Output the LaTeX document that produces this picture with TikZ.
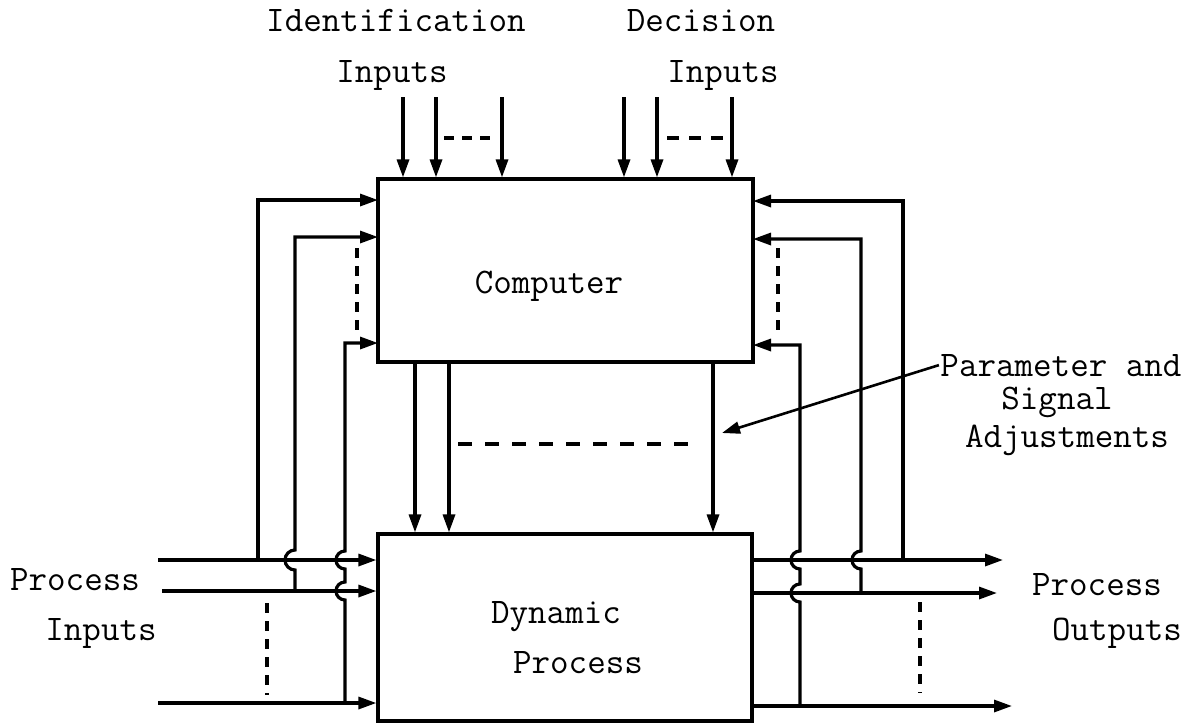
\documentclass[tikz,border=0pt]{standalone}
\usetikzlibrary{arrows.meta, fit}

\begin{document}
\begin{tikzpicture}[x=0.5pt, y=-0.5pt, line width=1.6pt,
    every node/.style={font=\fontsize{18}{20}\selectfont\ttfamily, inner sep=0pt},
    blk/.style={draw, line width=1.6pt},
    arr/.style={-{Triangle[length=9pt,width=6pt]}},
    gap/.style={dash pattern=on 5pt off 4pt}]
  \useasboundingbox (0,0) rectangle (1195,725);

  % the two blocks
  \node[blk, fit={(378,179) (753,362)}] (comp) {};
  \node[blk, fit={(378,534) (752,721)}] (dyn) {};
  \node[anchor=base] (compT) at (549,293) {Computer};
  \node[anchor=base] (dynT) at (556,623) {Dynamic};
  \node[anchor=base] (dynP) at (578,673) {Process};

  % labels
  \node[anchor=base] (idA) at (396,31) {Identification};
  \node[anchor=base] (idB) at (392,82) {Inputs};
  \node[anchor=base] (deA) at (701,31) {Decision};
  \node[anchor=base] (deB) at (723,82) {Inputs};
  \node[anchor=base] (piA) at (75,590) {Process};
  \node[anchor=base] (piB) at (101,640) {Inputs};
  \node[anchor=base] (poA) at (1097,595) {Process};
  \node[anchor=base] (poB) at (1117,640) {Outputs};
  \node[anchor=base] (par) at (1061,376) {Parameter and};
  \node[anchor=base] (sig) at (1057,409) {Signal};
  \node[anchor=base] (adj) at (1067,447) {Adjustments};

  % identification and decision inputs
  \coordinate (ii1) at (403,97);
  \coordinate (ii2) at (436,97);
  \coordinate (ii3) at (502,97);
  \coordinate (di1) at (624,97);
  \coordinate (di2) at (657,97);
  \coordinate (di3) at (732,97);
  \draw[arr] (ii1) -- (ii1 |- comp.north);
  \draw[arr] (ii2) -- (ii2 |- comp.north);
  \draw[arr] (ii3) -- (ii3 |- comp.north);
  \draw[arr] (di1) -- (di1 |- comp.north);
  \draw[arr] (di2) -- (di2 |- comp.north);
  \draw[arr] (di3) -- (di3 |- comp.north);
  \draw[gap] (444,138) -- (490,138);
  \draw[gap, dash pattern=on 6pt off 5pt] (667,138) -- (723,138);

  % adjustments from computer to process
  \coordinate (co1) at (415,362);
  \coordinate (co2) at (449,362);
  \coordinate (co3) at (713,362);
  \draw[arr] (co1) -- (co1 |- dyn.north);
  \draw[arr] (co2) -- (co2 |- dyn.north);
  \draw[arr] (co3) -- (co3 |- dyn.north);
  \draw[gap, dash pattern=on 7pt off 6.5pt] (458,444) -- (698,444);
  \coordinate (ptip) at (722,433);
  \draw[arr, line width=1.3pt] (par.west) -- (ptip);

  % process inputs
  \coordinate (pi1) at (158,560);
  \coordinate (pi2) at (162,591);
  \coordinate (pi3) at (158,703);
  \draw[arr] (pi1) -- (pi1 -| dyn.west);
  \draw[arr] (pi2) -- (pi2 -| dyn.west);
  \draw[arr] (pi3) -- (pi3 -| dyn.west);
  \draw[gap] (267,603) -- (267,695);

  % input feedback to computer
  \coordinate (ti1) at (258,560);
  \coordinate (ti2) at (295,591);
  \coordinate (ti3) at (345,703);
  \coordinate (cl1) at (378,200);
  \coordinate (cl2) at (378,237);
  \coordinate (cl3) at (378,343);
  \draw[arr] (ti1) |- (cl1);
  \draw[arr] (ti2) -- (295,570) arc[start angle=90, end angle=270, radius=10] |- (cl2);
  \draw[arr] (ti3) -- (345,600) arc[start angle=90, end angle=270, radius=9]
    -- (345,569) arc[start angle=90, end angle=270, radius=9] |- (cl3);
  \draw[gap] (357,248) -- (357,330);

  % process outputs
  \coordinate (po1) at (1003,560);
  \coordinate (po2) at (997,593);
  \coordinate (po3) at (1012,706);
  \draw[arr] (po1 -| dyn.east) -- (po1);
  \draw[arr] (po2 -| dyn.east) -- (po2);
  \draw[arr] (po3 -| dyn.east) -- (po3);
  \draw[gap] (920,602) -- (920,693);

  % output feedback to computer
  \coordinate (to1) at (903,560);
  \coordinate (to2) at (861,593);
  \coordinate (to3) at (800,706);
  \coordinate (cr1) at (753,201);
  \coordinate (cr2) at (753,239);
  \coordinate (cr3) at (753,345);
  \draw[arr] (to1) |- (cr1);
  \draw[arr] (to2) -- (861,569) arc[start angle=90, end angle=270, radius=9] |- (cr2);
  \draw[arr] (to3) -- (800,602) arc[start angle=90, end angle=270, radius=9]
    -- (800,569) arc[start angle=90, end angle=270, radius=9] |- (cr3);
  \draw[gap] (778,248) -- (778,337);
\end{tikzpicture}
\end{document}
